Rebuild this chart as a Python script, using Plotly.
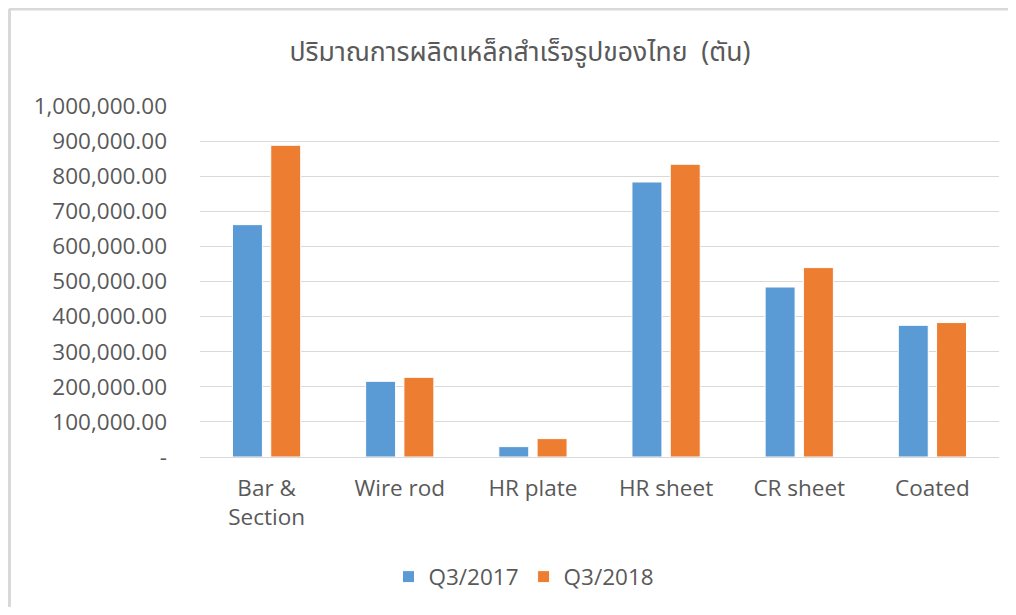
import plotly.graph_objects as go

categories = ["Bar &<br>Section", "Wire rod", "HR plate", "HR sheet", "CR sheet", "Coated"]
q3_2017 = [662000, 215600, 29600, 783500, 484300, 375200]
q3_2018 = [888000, 227000, 52400, 834000, 539600, 383000]
series_names = ["Q3/2017", "Q3/2018"]
tick_values = [0, 100000, 200000, 300000, 400000, 500000, 600000, 700000, 800000, 900000, 1000000]
tick_labels = ["-", "100,000.00", "200,000.00", "300,000.00", "400,000.00", "500,000.00",
               "600,000.00", "700,000.00", "800,000.00", "900,000.00", "1,000,000.00"]
title_text = "ปริมาณการผลิตเหล็กสำเร็จรูปของไทย  (ตัน)"

# page offset of the figure (browser body margin)
OFF = 8
W, H = 1000, 599
# plot area in page coordinates: x 200..999, y 106..457
ML = 200 - OFF
MR = W - (999 - OFF)
MT = 106 - OFF
MB = H - (457 - OFF)
FONT = "'Open Sans', sans-serif"
GRAY = "#595959"

fig = go.Figure()
fig.add_trace(go.Bar(x=categories, y=q3_2017, name=series_names[0],
                     marker=dict(color="#5B9BD5", line=dict(color="#ffffff", width=1))))
fig.add_trace(go.Bar(x=categories, y=q3_2018, name=series_names[1],
                     marker=dict(color="#ED7D31", line=dict(color="#ffffff", width=1))))

pw = W - ML - MR
ph = H - MT - MB
def px_x(x):  # page x -> paper
    return (x - OFF - ML) / pw
def px_y(y):  # page y -> paper
    return (H - MB - (y - OFF)) / ph

fig.update_layout(
    width=W, height=H,
    margin=dict(l=ML, r=MR, t=MT, b=MB, pad=0),
    paper_bgcolor="white", plot_bgcolor="white",
    barmode="group", bargap=0.425, bargroupgap=0.217,
    title=dict(text=title_text, x=(520 - OFF) / W, xanchor="center", y=1 - (52 - OFF) / H, yanchor="middle",
               font=dict(family="'Noto Sans Thai', 'Open Sans', sans-serif", size=26.6, color=GRAY)),
    font=dict(family=FONT, color=GRAY),
    showlegend=True,
    legend=dict(orientation="h", x=px_x(524), xanchor="center", y=px_y(577), yanchor="middle",
                font=dict(family=FONT, size=22.5, color=GRAY), itemwidth=30, traceorder="normal"),
    xaxis=dict(showgrid=False, showline=True, linecolor="#D9D9D9", linewidth=1,
               tickfont=dict(family=FONT, size=22.5, color=GRAY), ticks="", ticklabelstandoff=11),
    yaxis=dict(range=[0, 1000000], tickvals=tick_values, ticktext=tick_labels,
               showgrid=True, gridcolor="#D9D9D9", gridwidth=1, zeroline=False,
               tickfont=dict(family=FONT, size=22.5, color=GRAY), ticks="", ticklabelstandoff=32),
    shapes=[
        dict(type="line", xref="paper", yref="paper", x0=px_x(9), x1=px_x(1030),
             y0=px_y(9), y1=px_y(9), line=dict(color="#D9D9D9", width=3)),
        dict(type="line", xref="paper", yref="paper", x0=px_x(9.5), x1=px_x(9.5),
             y0=px_y(9), y1=px_y(640), line=dict(color="#D9D9D9", width=3)),
    ],
)

fig.write_html("out.html")
